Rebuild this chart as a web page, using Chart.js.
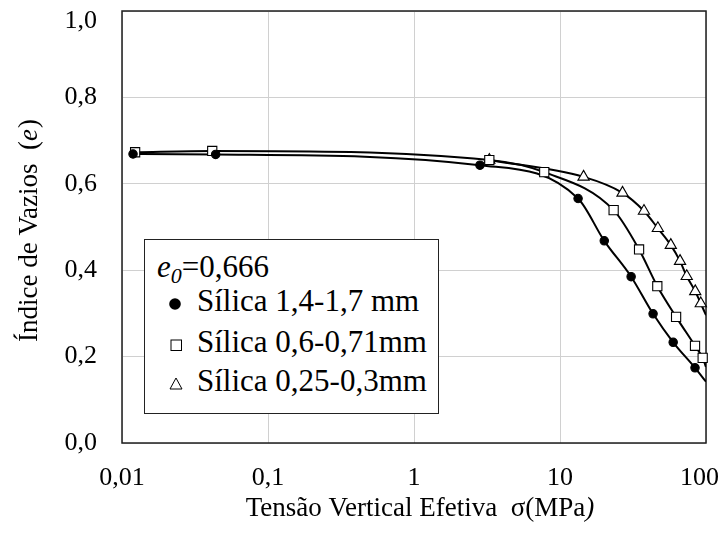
<!DOCTYPE html>
<html>
<head>
<meta charset="utf-8">
<script src="https://cdn.jsdelivr.net/npm/chart.js@4.4.0/dist/chart.umd.min.js"></script>
<style>
html,body{margin:0;padding:0;background:#fff;}
#wrap{position:relative;width:722px;height:537px;}
#legend{position:absolute;left:144px;top:239px;width:295px;height:175px;border:1.5px solid #222;background:#fff;box-sizing:border-box;font-family:"Liberation Serif","Times New Roman",serif;font-size:31px;color:#000;}
#legend .ln{position:absolute;line-height:31px;white-space:nowrap;}
#legend .sym{position:absolute;}
</style>
</head>
<body>
<div id="wrap">
<canvas id="c" width="722" height="537"></canvas>
<div id="legend">
  <div class="ln" style="left:12px;top:11px;"><i>e</i><sub style="font-size:22px;vertical-align:-6px;line-height:0;"><i>0</i></sub>=0,666</div>
  <svg class="sym" style="left:23px;top:57px;" width="14" height="14"><circle cx="7" cy="7" r="5.8" fill="#000"/></svg>
  <div class="ln" style="left:52px;top:45px;" id="l1"></div>
  <svg class="sym" style="left:25px;top:99px;" width="13" height="13"><rect x="1" y="1" width="10.5" height="10.5" fill="#fff" stroke="#000" stroke-width="1"/></svg>
  <div class="ln" style="left:52px;top:86px;" id="l2"></div>
  <svg class="sym" style="left:24px;top:137px;" width="14" height="13"><polygon points="7,1 13,12 1,12" fill="#fff" stroke="#000" stroke-width="1"/></svg>
  <div class="ln" style="left:52px;top:125px;" id="l3"></div>
</div>
</div>
<script>
// ---- data ----
const seriesNames = ['Sílica 1,4-1,7 mm', 'Sílica 0,6-0,71mm', 'Sílica 0,25-0,3mm'];
const xTickValues = [0.01, 0.1, 1, 10, 100];
const xTickLabels = ['0,01', '0,1', '1', '10', '100'];
const yTickLabels = ['0,0', '0,2', '0,4', '0,6', '0,8', '1,0'];
const xTitle = 'Tensão Vertical Efetiva  σ(MPa';
const yTitle = 'Índice de Vazios  (';

const s1Stress = [0.0119, 0.0438, 2.83, 13.3, 20.1, 30.7, 43.4, 59.6, 84.1];
const s1Void   = [0.669, 0.668, 0.643, 0.566, 0.468, 0.385, 0.299, 0.233, 0.174];
const s2Stress = [0.0123, 0.0415, 3.28, 7.80, 23.3, 34.8, 46.4, 62.4, 84.1, 94.9];
const s2Void   = [0.673, 0.676, 0.655, 0.627, 0.539, 0.448, 0.363, 0.292, 0.225, 0.197];
const s3Stress = [3.28, 14.5, 26.8, 37.6, 46.8, 57.4, 66.4, 73.8, 84.4, 92.1];
const s3Void   = [0.655, 0.616, 0.579, 0.537, 0.497, 0.458, 0.421, 0.386, 0.351, 0.323];
// curve values where the fitted lines meet the right edge (100 MPa)
const curveEndStress = 100;
const curveEndVoid = [0.142, 0.176, 0.296];

document.getElementById('l1').textContent = seriesNames[0];
document.getElementById('l2').textContent = seriesNames[1];
document.getElementById('l3').textContent = seriesNames[2];

const pts = (xs, ys) => xs.map((x, i) => ({x: x, y: ys[i]}));
const FONT = '"Liberation Serif", "Times New Roman", serif';

function lineDs(xs, ys, endV) {
  return {
    type: 'line', data: pts(xs, ys).concat([{x: curveEndStress, y: endV}]),
    borderColor: '#000', borderWidth: 2, pointRadius: 0, fill: false,
    cubicInterpolationMode: 'monotone', order: 5
  };
}
function markDs(xs, ys, style, r, bg) {
  return {
    type: 'line', data: pts(xs, ys), showLine: false,
    pointStyle: style, pointRadius: r, pointBackgroundColor: bg,
    pointBorderColor: '#000', pointBorderWidth: 1.1, clip: 10, order: 1
  };
}

const framePlugin = {
  id: 'frame',
  beforeDatasetsDraw(chart) {
    const {ctx, chartArea: a} = chart;
    ctx.save();
    ctx.strokeStyle = '#1e1e1e';
    ctx.lineWidth = 1.5;
    ctx.strokeRect(a.left, a.top, a.right - a.left, a.bottom - a.top);
    ctx.restore();
  },
  afterDraw(chart) {
    const {ctx, chartArea: a} = chart;
    ctx.save();
    ctx.fillStyle = '#000';
    ctx.textBaseline = 'middle';
    const fN = '27px ' + FONT, fI = 'italic 27px ' + FONT;
    // x title
    ctx.font = fN; const w1 = ctx.measureText(xTitle).width;
    ctx.font = fI; const w2 = ctx.measureText(')').width;
    let x0 = (a.left + a.right) / 2 + 6 - (w1 + w2) / 2;
    ctx.textAlign = 'left';
    ctx.font = fN; ctx.fillText(xTitle, x0, 509);
    ctx.font = fI; ctx.fillText(')', x0 + w1, 509);
    // y title
    ctx.translate(30, (a.top + a.bottom) / 2 + 4);
    ctx.rotate(-Math.PI / 2);
    ctx.font = fN; const v1 = ctx.measureText(yTitle).width;
    ctx.font = fI; const v2 = ctx.measureText('e').width;
    ctx.font = fN; const v3 = ctx.measureText(')').width;
    let y0 = -(v1 + v2 + v3) / 2;
    ctx.font = fN; ctx.fillText(yTitle, y0, 0);
    ctx.font = fI; ctx.fillText('e', y0 + v1, 0);
    ctx.font = fN; ctx.fillText(')', y0 + v1 + v2 + 1, 0);
    ctx.restore();
  }
};

new Chart(document.getElementById('c'), {
  data: {
    datasets: [
      lineDs(s1Stress, s1Void, curveEndVoid[0]),
      lineDs(s2Stress, s2Void, curveEndVoid[1]),
      lineDs(s3Stress, s3Void, curveEndVoid[2]),
      markDs(s1Stress, s1Void, 'circle', 4.2, '#000'),
      markDs(s2Stress, s2Void, 'rect', 6.5, '#fff'),
      markDs(s3Stress, s3Void, 'triangle', 6.5, '#fff')
    ]
  },
  options: {
    responsive: false, animation: false,
    layout: {padding: 0},
    plugins: {legend: {display: false}, tooltip: {enabled: false}},
    scales: {
      x: {
        type: 'logarithmic', min: 0.01, max: 100, position: 'bottom',
        afterFit(s) { s.height = 94; s.paddingLeft = 0; s.paddingRight = 16; },
        afterBuildTicks(s) { s.ticks = xTickValues.map(v => ({value: v})); },
        grid: {color: '#d0d0d0', lineWidth: 1, drawTicks: false},
        border: {display: false},
        ticks: {
          autoSkip: false, maxRotation: 0, padding: 20, color: '#000',
          font: {family: FONT, size: 26},
          // last label kept inside the canvas, as in the original
          callback: (v, i) => i === xTickLabels.length - 1 ? xTickLabels[i] + '\u2002' : xTickLabels[i]
        }
      },
      y: {
        type: 'linear', min: 0, max: 1,
        afterFit(s) { s.width = 122; s.paddingTop = 11; s.paddingBottom = 0; },
        grid: {color: '#d0d0d0', lineWidth: 1, drawTicks: false},
        border: {display: false},
        ticks: {
          stepSize: 0.2, padding: 25, color: '#000',
          font: {family: FONT, size: 26, lineHeight: 0.75},
          // top label kept inside the canvas, as in the original
          callback: (v, i) => i === yTickLabels.length - 1 ? ['', yTickLabels[i]] : yTickLabels[i]
        }
      }
    }
  },
  plugins: [framePlugin]
});
</script>
</body>
</html>
